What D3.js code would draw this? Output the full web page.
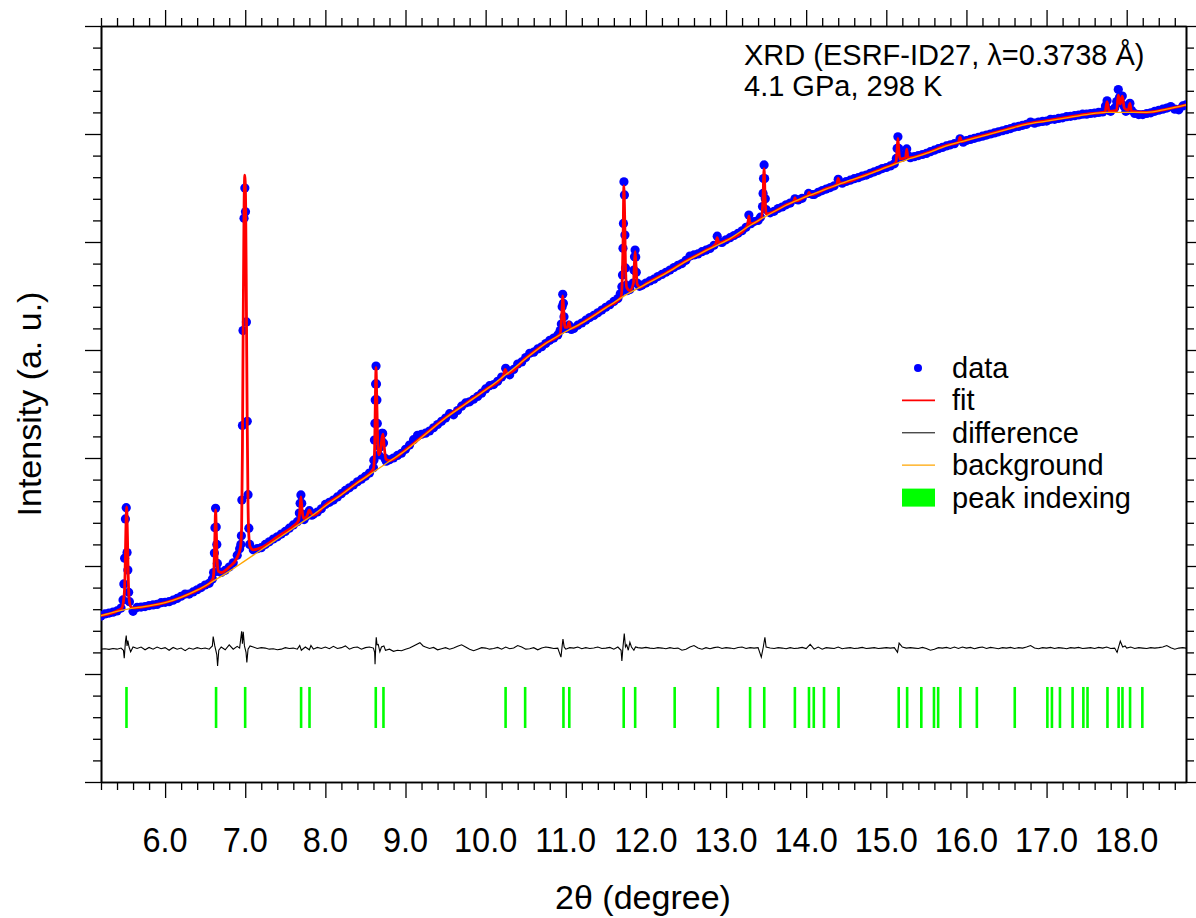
<!DOCTYPE html>
<html>
<head>
<meta charset="utf-8">
<script src="https://cdn.jsdelivr.net/npm/d3@7/dist/d3.min.js"></script>
<style>
  html, body { margin: 0; padding: 0; background: #fff; }
  svg { display: block; }
  text { font-family: "Liberation Sans", Arial, Helvetica, sans-serif; fill: #000; }
</style>
</head>
<body>
<svg id="chart" width="1196" height="918"></svg>
<script>
// ---------------- DATA ----------------
// observed data points [2theta, intensity (a.u.)]
const obsData = [
[5.20,7.68],[5.25,7.78],[5.30,7.82],[5.35,7.86],[5.40,7.92],[5.45,8.05],
[5.475,8.43],[5.485,9.17],[5.495,10.36],[5.505,12.18],[5.515,12.70],[5.525,10.62],[5.535,9.81],[5.545,8.78],[5.555,8.35],
[5.60,7.90],[5.65,8.08],[5.70,8.10],[5.75,8.12],[5.80,8.17],[5.85,8.20],[5.90,8.22],[5.95,8.30],[6.00,8.32],[6.05,8.35],
[6.10,8.42],[6.15,8.50],[6.20,8.60],[6.25,8.70],[6.30,8.70],[6.35,8.80],[6.40,8.90],[6.45,9.00],[6.50,9.12],[6.55,9.20],[6.59,9.40],
[6.605,9.70],[6.615,10.60],[6.622,11.77],[6.630,12.67],[6.638,11.80],[6.645,11.00],[6.652,10.12],[6.665,9.75],
[6.70,9.70],[6.75,9.80],[6.80,9.95],[6.85,10.15],[6.90,10.50],[6.93,10.80],
[6.945,11.00],[6.952,11.40],[6.958,13.05],[6.965,16.50],[6.972,20.90],[6.985,26.10],[6.995,27.50],[7.003,26.40],[7.015,21.30],[7.025,16.70],[7.035,13.30],[7.045,11.75],[7.055,11.00],
[7.10,10.75],[7.15,10.80],[7.20,10.85],[7.25,11.00],[7.30,11.12],[7.35,11.25],[7.40,11.35],[7.45,11.48],[7.50,11.60],[7.55,11.75],[7.60,11.90],[7.65,12.05],
[7.675,12.45],[7.685,12.90],[7.695,13.29],[7.705,12.90],[7.715,12.40],[7.735,12.15],[7.76,12.30],[7.80,12.56],[7.83,12.35],[7.85,12.40],
[7.90,12.50],[7.95,12.65],[8.00,12.85],[8.05,12.95],[8.10,13.05],[8.15,13.20],[8.20,13.35],[8.25,13.50],[8.30,13.62],[8.35,13.75],[8.40,13.90],[8.45,14.02],[8.50,14.15],[8.55,14.30],[8.60,14.55],
[8.605,14.90],[8.612,15.83],[8.618,16.60],[8.622,17.69],[8.627,18.43],[8.632,19.26],[8.638,18.43],[8.643,17.69],[8.648,16.60],[8.655,15.83],[8.665,15.14],
[8.68,15.50],[8.69,15.90],[8.705,16.14],[8.715,16.14],[8.725,15.70],[8.74,15.00],[8.76,14.85],
[8.80,14.92],[8.85,15.00],[8.90,15.12],[8.95,15.22],[9.00,15.40],[9.05,15.60],[9.10,15.85],[9.15,16.05],[9.20,16.10],[9.25,16.15],[9.30,16.25],[9.35,16.40],[9.40,16.55],[9.45,16.70],[9.50,16.85],
[9.55,17.05],[9.60,17.00],[9.65,17.20],[9.70,17.40],[9.75,17.55],[9.80,17.60],[9.85,17.72],[9.90,17.85],[9.95,18.00],[10.00,18.20],[10.05,18.35],[10.10,18.40],[10.15,18.55],[10.20,18.75],
[10.25,19.15],[10.28,18.95],[10.30,18.85],[10.35,19.10],[10.40,19.35],[10.45,19.45],[10.50,19.65],[10.55,19.85],[10.60,19.90],[10.65,20.05],[10.70,20.15],[10.75,20.30],[10.80,20.45],[10.85,20.55],[10.90,20.70],[10.93,20.90],
[10.945,21.20],[10.955,22.00],[10.962,22.58],[10.970,22.16],[10.978,21.54],[10.99,21.00],[11.00,21.00],[11.04,21.15],[11.07,20.95],
[11.10,21.00],[11.15,21.15],[11.20,21.25],[11.25,21.38],[11.30,21.50],[11.35,21.60],[11.40,21.72],[11.45,21.85],[11.50,21.98],[11.55,22.10],[11.60,22.25],[11.65,22.38],[11.68,22.60],
[11.700,22.93],[11.708,23.47],[11.714,24.71],[11.720,25.86],[11.726,27.79],[11.732,27.18],[11.738,25.32],[11.745,23.80],[11.755,23.00],[11.77,22.75],[11.80,22.80],
[11.84,23.10],[11.85,23.70],[11.858,24.32],[11.865,24.63],[11.873,24.30],[11.88,23.60],[11.89,23.10],[11.92,22.95],[11.95,23.00],
[12.00,23.10],[12.05,23.20],[12.10,23.28],[12.15,23.40],[12.20,23.50],[12.25,23.60],[12.30,23.70],[12.35,23.82],[12.40,23.92],[12.45,24.00],
[12.50,24.15],[12.55,24.35],[12.60,24.40],[12.65,24.45],[12.70,24.55],[12.75,24.62],[12.80,24.70],[12.85,24.85],[12.89,25.27],[12.93,25.00],[12.95,24.98],
[13.00,25.10],[13.05,25.20],[13.10,25.30],[13.15,25.40],[13.20,25.52],[13.25,25.68],[13.285,26.25],[13.31,25.85],[13.35,25.95],[13.40,26.00],[13.43,26.15],
[13.455,26.64],[13.462,27.25],[13.468,27.94],[13.475,28.57],[13.482,27.94],[13.49,27.00],[13.50,26.50],
[13.55,26.35],[13.60,26.42],[13.65,26.55],[13.70,26.62],[13.75,26.72],[13.80,26.80],[13.86,27.00],[13.90,26.95],[13.95,27.02],[14.03,27.25],[14.08,27.20],[14.10,27.20],
[14.15,27.30],[14.20,27.38],[14.25,27.45],[14.30,27.52],[14.35,27.60],[14.40,27.90],[14.45,27.72],[14.50,27.80],[14.55,27.86],[14.60,27.93],[14.65,27.98],[14.70,28.05],
[14.75,28.10],[14.80,28.18],[14.85,28.25],[14.90,28.32],[14.95,28.40],[15.00,28.45],[15.05,28.52],[15.10,28.62],
[15.125,28.87],[15.135,29.33],[15.145,29.87],[15.155,29.33],[15.17,28.95],[15.20,28.92],[15.235,29.05],[15.255,29.31],[15.27,29.00],[15.30,28.90],
[15.35,28.95],[15.40,29.00],[15.45,29.05],[15.50,29.10],[15.55,29.18],[15.60,29.25],[15.65,29.32],[15.70,29.38],[15.75,29.45],[15.80,29.50],[15.85,29.55],[15.92,29.78],[15.96,29.62],
[16.00,29.70],[16.05,29.75],[16.10,29.80],[16.15,29.85],[16.20,29.90],[16.25,29.95],[16.30,30.00],[16.35,30.05],[16.40,30.10],[16.45,30.15],[16.50,30.20],[16.55,30.25],[16.60,30.32],
[16.65,30.35],[16.70,30.40],[16.75,30.45],[16.80,30.55],[16.85,30.50],[16.90,30.55],[16.95,30.58],[17.00,30.60],[17.05,30.68],[17.10,30.68],[17.15,30.72],[17.20,30.75],
[17.25,30.80],[17.30,30.82],[17.35,30.85],[17.40,30.88],[17.45,30.92],[17.50,30.92],[17.55,30.95],[17.60,30.97],[17.65,31.00],[17.70,31.02],
[17.735,31.30],[17.755,31.54],[17.775,31.10],[17.80,31.05],[17.85,31.20],[17.875,31.50],[17.895,32.06],[17.91,31.70],[17.925,31.45],[17.945,31.76],[17.965,31.30],[17.99,31.05],
[18.02,31.20],[18.04,31.42],[18.06,31.10],[18.10,30.95],[18.15,30.90],[18.20,30.90],[18.25,30.95],[18.30,30.98],[18.35,31.05],[18.40,31.10],[18.45,31.15],[18.50,31.20],
[18.55,31.27],[18.60,31.15],[18.65,31.12],[18.70,31.30],[18.74,31.35]
];

// calculated (fit) profile [2theta, intensity]
const fitData = [
[5.20,7.70],[5.40,7.92],[5.46,8.05],[5.49,8.70],[5.50,9.60],[5.51,11.60],[5.52,12.74],[5.53,11.40],[5.54,9.50],[5.55,8.50],[5.57,8.12],[5.60,8.06],
[5.80,8.15],[6.00,8.30],[6.20,8.55],[6.40,8.88],[6.58,9.30],[6.60,9.45],[6.61,9.90],[6.62,11.20],[6.63,12.60],[6.64,11.50],[6.65,10.20],[6.665,9.75],
[6.70,9.70],[6.80,9.95],[6.90,10.40],[6.94,10.85],[6.955,11.80],[6.965,15.50],[6.975,21.50],[6.985,26.50],[6.995,28.10],[7.005,26.80],[7.015,21.80],
[7.025,16.50],[7.035,12.80],[7.045,11.40],[7.06,10.90],[7.10,10.75],[7.20,10.85],[7.40,11.35],[7.60,11.85],[7.665,12.10],[7.68,12.50],[7.695,13.20],
[7.71,12.55],[7.73,12.20],[7.77,12.30],[7.80,12.60],[7.82,12.45],[7.85,12.35],[8.00,12.82],[8.20,13.32],[8.40,13.87],[8.60,14.50],[8.615,15.50],
[8.625,18.00],[8.632,19.20],[8.64,18.00],[8.65,16.20],[8.665,15.15],[8.69,15.35],[8.705,15.90],[8.72,16.10],[8.735,15.50],[8.755,14.95],[8.80,14.88],
[9.00,15.38],[9.25,16.12],[9.50,16.87],[9.75,17.52],[10.00,18.17],[10.22,18.80],[10.245,19.10],[10.27,18.90],[10.50,19.62],[10.75,20.32],[10.93,20.75],
[10.95,21.60],[10.963,22.50],[10.975,21.80],[10.99,21.05],[11.02,21.05],[11.04,21.30],[11.06,21.00],[11.25,21.37],[11.50,21.97],[11.69,22.45],
[11.705,23.30],[11.715,25.00],[11.725,27.60],[11.735,26.20],[11.745,23.90],[11.76,22.90],[11.80,22.75],[11.845,23.10],[11.855,23.90],[11.866,24.55],
[11.877,23.90],[11.89,23.05],[11.93,22.90],[12.00,23.07],[12.25,23.57],[12.50,24.12],[12.75,24.62],[12.87,24.90],[12.89,25.20],[12.91,24.95],
[13.00,25.07],[13.25,25.67],[13.27,25.80],[13.285,26.20],[13.30,25.85],[13.44,26.10],[13.46,26.90],[13.475,28.40],[13.488,27.00],[13.50,26.30],
[13.75,26.72],[13.85,26.90],[13.86,27.05],[13.875,26.90],[14.00,27.12],[14.02,27.15],[14.035,27.30],[14.05,27.18],[14.25,27.47],[14.38,27.66],
[14.40,27.95],[14.42,27.72],[14.75,28.12],[15.00,28.47],[15.12,28.68],[15.135,29.30],[15.145,29.80],[15.155,29.30],[15.17,28.85],[15.24,28.90],
[15.255,29.30],[15.27,28.90],[15.50,29.12],[15.75,29.47],[15.90,29.62],[15.92,29.85],[15.94,29.65],[16.00,29.72],[16.25,29.97],[16.50,30.22],
[16.75,30.47],[17.00,30.62],[17.25,30.77],[17.50,30.92],[17.73,31.02],[17.755,31.50],[17.78,31.05],[17.875,31.10],[17.895,31.80],[17.92,31.40],
[17.945,31.75],[17.97,31.20],[18.02,31.10],[18.04,31.42],[18.06,31.05],[18.25,31.00],[18.50,31.15],[18.74,31.35]
];

// refined background [2theta, intensity]
const bkgData = [
[5.20,7.70],[5.40,7.90],[5.60,8.05],[5.80,8.15],[6.00,8.30],[6.20,8.55],[6.40,8.88],[6.60,9.30],[6.80,9.75],[7.00,10.25],
[7.20,10.75],[7.40,11.25],[7.60,11.75],[7.80,12.25],[8.00,12.78],[8.20,13.30],[8.40,13.85],[8.60,14.35],[8.80,14.85],[9.00,15.35],
[9.25,16.10],[9.50,16.85],[9.75,17.50],[10.00,18.15],[10.25,18.85],[10.50,19.60],[10.75,20.30],[11.00,20.85],[11.25,21.35],[11.50,21.95],
[11.75,22.55],[12.00,23.05],[12.25,23.55],[12.50,24.10],[12.75,24.60],[13.00,25.05],[13.25,25.65],[13.50,26.20],[13.75,26.70],[14.00,27.10],
[14.25,27.45],[14.50,27.80],[14.75,28.10],[15.00,28.45],[15.25,28.80],[15.50,29.10],[15.75,29.45],[16.00,29.70],[16.25,29.95],[16.50,30.20],
[16.75,30.45],[17.00,30.60],[17.25,30.75],[17.50,30.90],[17.75,31.00],[18.00,31.00],[18.25,31.00],[18.50,31.15],[18.74,31.35]
];

// difference (obs - calc), shown around an offset baseline
const diffOffset = 6.2;
const diffData = [
[5.20,-0.05],[5.25,-0.03],[5.30,-0.06],[5.35,-0.02],[5.40,-0.05],[5.45,0.0],[5.48,-0.1],[5.49,-0.47],[5.505,0.3],[5.515,0.58],[5.525,0.1],[5.535,0.35],
[5.55,0.05],[5.57,-0.17],[5.60,0.05],[5.65,-0.02],[5.70,0.05],[5.75,-0.08],[5.80,0.03],[5.85,-0.05],[5.90,0.05],[5.95,-0.03],[6.00,0.02],[6.05,-0.1],
[6.10,0.03],[6.15,-0.05],[6.20,0.0],[6.25,-0.12],[6.30,0.0],[6.35,-0.05],[6.40,0.02],[6.45,-0.03],[6.50,0.0],[6.55,-0.05],[6.59,0.1],[6.60,0.53],
[6.62,0.1],[6.645,-0.3],[6.655,-0.83],[6.67,-0.1],[6.70,0.05],[6.75,-0.08],[6.80,0.15],[6.85,-0.05],[6.90,0.08],[6.93,0.0],[6.955,0.78],[6.965,0.2],
[6.975,0.75],[6.99,0.1],[7.01,-0.2],[7.02,-0.67],[7.035,-0.05],[7.06,0.1],[7.10,0.05],[7.15,-0.02],[7.20,0.02],[7.25,0.0],[7.30,-0.05],[7.35,-0.03],
[7.40,-0.08],[7.45,-0.05],[7.50,0.02],[7.55,-0.02],[7.60,0.0],[7.65,-0.05],[7.68,0.12],[7.70,-0.1],[7.75,0.05],[7.80,-0.08],[7.82,0.12],[7.85,-0.05],
[7.90,0.03],[7.95,-0.02],[8.00,0.05],[8.05,-0.03],[8.10,0.08],[8.15,-0.02],[8.20,0.02],[8.25,0.1],[8.30,-0.05],[8.35,0.03],[8.40,0.05],[8.45,-0.05],
[8.50,0.02],[8.55,0.05],[8.60,0.0],[8.615,-0.2],[8.62,-0.75],[8.63,0.2],[8.635,0.5],[8.645,0.15],[8.66,0.17],[8.68,-0.17],[8.70,0.05],[8.73,0.1],
[8.75,-0.1],[8.80,-0.05],[8.85,-0.15],[8.90,-0.1],[8.95,-0.12],[9.00,-0.05],[9.05,0.0],[9.10,0.1],[9.18,0.25],[9.22,0.1],[9.25,0.05],[9.30,-0.02],
[9.35,0.03],[9.40,-0.08],[9.45,-0.03],[9.50,0.02],[9.55,-0.05],[9.60,0.0],[9.65,0.08],[9.70,0.15],[9.75,0.05],[9.80,-0.05],[9.85,-0.12],[9.90,-0.05],
[9.95,0.02],[10.00,0.0],[10.05,-0.05],[10.10,-0.02],[10.15,0.03],[10.20,-0.05],[10.25,0.05],[10.30,-0.03],[10.35,0.0],[10.40,0.12],[10.45,0.05],
[10.50,-0.05],[10.55,-0.03],[10.60,0.02],[10.65,-0.08],[10.70,0.0],[10.75,0.05],[10.80,0.02],[10.85,-0.02],[10.90,0.0],[10.94,-0.42],[10.955,0.1],
[10.965,0.42],[10.98,0.05],[11.00,-0.05],[11.05,0.02],[11.10,0.0],[11.15,0.05],[11.20,-0.03],[11.25,0.02],[11.30,-0.02],[11.35,0.0],[11.40,0.05],
[11.45,-0.02],[11.50,0.0],[11.55,0.03],[11.60,-0.05],[11.65,0.05],[11.69,-0.1],[11.70,-0.6],[11.715,0.1],[11.73,0.67],[11.745,0.05],[11.76,0.15],
[11.78,-0.1],[11.80,0.27],[11.82,0.05],[11.85,-0.1],[11.87,0.05],[11.90,0.02],[11.95,0.0],[12.00,0.03],[12.05,0.0],[12.10,-0.02],[12.15,0.02],
[12.20,0.0],[12.25,-0.03],[12.30,0.02],[12.35,-0.02],[12.40,0.0],[12.45,-0.1],[12.50,-0.05],[12.55,0.05],[12.60,0.12],[12.65,0.0],[12.70,-0.05],
[12.75,0.02],[12.80,-0.03],[12.85,0.02],[12.90,0.05],[12.95,-0.02],[13.00,0.02],[13.05,0.0],[13.10,-0.03],[13.15,0.03],[13.20,0.05],[13.25,-0.02],
[13.30,0.02],[13.35,0.0],[13.40,0.02],[13.44,-0.42],[13.465,0.05],[13.485,0.5],[13.50,0.05],[13.55,0.0],[13.60,-0.02],[13.65,0.02],[13.70,0.0],
[13.75,-0.03],[13.80,0.02],[13.85,-0.02],[13.90,0.0],[13.95,0.03],[14.00,-0.02],[14.05,0.17],[14.10,-0.05],[14.15,0.05],[14.20,-0.05],[14.25,0.02],
[14.30,0.0],[14.35,-0.02],[14.40,0.05],[14.45,-0.03],[14.50,0.0],[14.55,0.02],[14.60,-0.02],[14.65,0.0],[14.70,0.03],[14.75,-0.02],[14.80,0.0],
[14.85,0.02],[14.90,-0.02],[14.95,0.0],[15.00,0.02],[15.05,0.0],[15.10,0.02],[15.14,-0.2],[15.16,0.23],[15.20,0.05],[15.25,0.0],[15.30,0.02],
[15.35,0.0],[15.40,-0.02],[15.45,0.03],[15.50,-0.02],[15.55,-0.1],[15.60,-0.05],[15.65,0.02],[15.70,0.0],[15.75,0.03],[15.80,-0.02],[15.85,0.05],
[15.90,-0.02],[15.95,0.05],[16.00,0.0],[16.05,0.03],[16.10,-0.03],[16.15,0.02],[16.20,0.05],[16.25,-0.02],[16.30,0.03],[16.35,0.0],[16.40,-0.03],
[16.45,0.02],[16.50,0.0],[16.55,0.03],[16.60,-0.02],[16.65,0.02],[16.70,0.0],[16.75,0.05],[16.80,0.12],[16.85,0.0],[16.90,-0.03],[16.95,0.02],
[17.00,0.0],[17.05,0.03],[17.10,-0.02],[17.15,0.02],[17.20,0.0],[17.25,-0.03],[17.30,0.02],[17.35,0.0],[17.40,0.03],[17.45,-0.02],[17.50,0.0],
[17.55,0.02],[17.60,-0.02],[17.65,0.03],[17.70,0.0],[17.75,0.05],[17.80,-0.02],[17.85,0.0],[17.88,-0.2],[17.92,0.32],[17.95,0.05],[17.98,0.1],
[18.00,0.0],[18.05,0.05],[18.10,-0.02],[18.15,0.02],[18.20,0.0],[18.25,-0.02],[18.30,0.02],[18.35,0.0],[18.40,0.02],[18.45,0.05],[18.50,0.12],
[18.55,0.02],[18.60,-0.05],[18.65,0.0],[18.70,0.02],[18.74,0.0]
];

// Bragg peak positions (2theta) for the indexing ticks
const peakPositions = [5.518,6.636,6.999,7.697,7.802,8.629,8.725,10.249,10.493,10.971,11.044,11.723,11.866,12.359,12.899,13.300,13.477,
  13.859,14.035,14.095,14.223,14.404,15.155,15.260,15.437,15.595,15.647,15.924,16.130,16.603,17.010,17.067,17.167,17.325,17.459,17.511,
  17.760,17.899,17.947,18.042,18.195];

// axis ticks
const xMajorTicks = [6,7,8,9,10,11,12,13,14,15,16,17,18];
const xTickLabels = ["6.0","7.0","8.0","9.0","10.0","11.0","12.0","13.0","14.0","15.0","16.0","17.0","18.0"];
const xDomain = [5.2, 18.74];
const yDomain = [0, 35];
const legendLabels = ["data","fit","difference","background","peak indexing"];
const annotationLines = ["XRD (ESRF-ID27, \u03bb=0.3738 \u00c5)", "4.1 GPa, 298 K"];

// ---------------- DRAWING ----------------
const svg = d3.select("#chart");
const L = 101, R = 1186, T = 26, B = 782;
const x = d3.scaleLinear().domain(xDomain).range([L, R]);
const y = d3.scaleLinear().domain(yDomain).range([B, T]);

const xMinor = d3.range(52, 188, 2).map(v => v / 10).filter(v => v >= xDomain[0] - 1e-9 && v <= xDomain[1] && Math.abs(v - Math.round(v)) > 1e-6);
const yMinor = d3.range(0, 36).filter(v => v % 5 !== 0);
const yMajor = [0,5,10,15,20,25,30,35];

const FONT = '"Liberation Sans", Arial, Helvetica, sans-serif';

function styleAxis(g) {
  g.select(".domain").attr("stroke", "#000").attr("stroke-width", 1.6);
  g.selectAll(".tick line").attr("stroke", "#000").attr("stroke-width", 1.3);
  g.selectAll(".tick text").remove();
}

// bottom
svg.append("g").attr("transform", `translate(0,${B})`)
  .call(d3.axisBottom(x).tickValues(xMinor).tickSize(8).tickSizeOuter(0)).call(styleAxis);
svg.append("g").attr("transform", `translate(0,${B})`)
  .call(d3.axisBottom(x).tickValues(xMajorTicks).tickSize(16).tickSizeOuter(0)).call(styleAxis);
// top
svg.append("g").attr("transform", `translate(0,${T})`)
  .call(d3.axisTop(x).tickValues(xMinor).tickSize(8).tickSizeOuter(0)).call(styleAxis);
svg.append("g").attr("transform", `translate(0,${T})`)
  .call(d3.axisTop(x).tickValues(xMajorTicks).tickSize(16).tickSizeOuter(0)).call(styleAxis);
// left
svg.append("g").attr("transform", `translate(${L},0)`)
  .call(d3.axisLeft(y).tickValues(yMinor).tickSize(8).tickSizeOuter(0)).call(styleAxis);
svg.append("g").attr("transform", `translate(${L},0)`)
  .call(d3.axisLeft(y).tickValues(yMajor).tickSize(16).tickSizeOuter(0)).call(styleAxis);
// right
svg.append("g").attr("transform", `translate(${R},0)`)
  .call(d3.axisRight(y).tickValues(yMinor).tickSize(8).tickSizeOuter(0)).call(styleAxis);
svg.append("g").attr("transform", `translate(${R},0)`)
  .call(d3.axisRight(y).tickValues(yMajor).tickSize(16).tickSizeOuter(0)).call(styleAxis);

// x tick labels (slightly tall glyphs as in the reference)
svg.append("g").selectAll("text").data(xMajorTicks).join("text")
  .attr("transform", d => `translate(${x(d)},852) scale(1,1.08)`)
  .attr("text-anchor", "middle").style("font-size", "32.5px").style("font-family", FONT)
  .text((d, i) => xTickLabels[i]);

// axis titles
svg.append("text").attr("x", 643).attr("y", 909).attr("text-anchor", "middle")
  .style("font-size", "34px").style("font-family", FONT).text("2\u03b8 (degree)");
svg.append("text").attr("transform", "translate(41,404) rotate(-90)").attr("text-anchor", "middle")
  .style("font-size", "34px").style("font-family", FONT).text("Intensity (a. u.)");

// plot content clipped to frame
svg.append("clipPath").attr("id", "clip").append("rect")
  .attr("x", L).attr("y", T).attr("width", R - L).attr("height", B - T);
const plot = svg.append("g").attr("clip-path", "url(#clip)");

// data points
plot.append("g").selectAll("circle").data(obsData).join("circle")
  .attr("cx", d => x(d[0])).attr("cy", d => y(d[1])).attr("r", 4.6).attr("fill", "#0000ff");

// fit
const line = d3.line().x(d => x(d[0])).y(d => y(d[1])).curve(d3.curveMonotoneX);
plot.append("path").datum(fitData).attr("d", line)
  .attr("fill", "none").attr("stroke", "#ff0000").attr("stroke-width", 2.8).attr("stroke-linejoin", "round");
// background
plot.append("path").datum(bkgData).attr("d", line)
  .attr("fill", "none").attr("stroke", "#ffa500").attr("stroke-width", 1.3);
// difference
const diffLine = d3.line().x(d => x(d[0])).y(d => y(d[1] + diffOffset));
plot.append("path").datum(diffData).attr("d", diffLine)
  .attr("fill", "none").attr("stroke", "#000").attr("stroke-width", 1.1);

// peak indexing ticks
plot.append("g").selectAll("line").data(peakPositions).join("line")
  .attr("x1", d => x(d)).attr("x2", d => x(d))
  .attr("y1", y(4.4)).attr("y2", y(2.5))
  .attr("stroke", "#00ff00").attr("stroke-width", 2.6);

// annotation
svg.append("g").selectAll("text").data(annotationLines).join("text")
  .attr("x", 744).attr("y", (d, i) => 65 + i * 31)
  .style("font-size", "29px").style("font-family", FONT).text(d => d);

// legend
const lg = svg.append("g");
const rowY = i => 378 + i * 32.4;
legendLabels.forEach((lab, i) => {
  lg.append("text").attr("x", 952).attr("y", rowY(i))
    .style("font-size", "29px").style("font-family", FONT).text(lab);
});
lg.append("circle").attr("cx", 918).attr("cy", rowY(0) - 10).attr("r", 4).attr("fill", "#0000ff");
lg.append("line").attr("x1", 902).attr("x2", 935).attr("y1", rowY(1) - 10).attr("y2", rowY(1) - 10)
  .attr("stroke", "#ff0000").attr("stroke-width", 1.6);
lg.append("line").attr("x1", 902).attr("x2", 935).attr("y1", rowY(2) - 10).attr("y2", rowY(2) - 10)
  .attr("stroke", "#000").attr("stroke-width", 1);
lg.append("line").attr("x1", 902).attr("x2", 935).attr("y1", rowY(3) - 10).attr("y2", rowY(3) - 10)
  .attr("stroke", "#ffa500").attr("stroke-width", 1.2);
lg.append("rect").attr("x", 902).attr("y", rowY(4) - 19).attr("width", 33).attr("height", 18)
  .attr("fill", "#00ff00");
</script>
</body>
</html>
